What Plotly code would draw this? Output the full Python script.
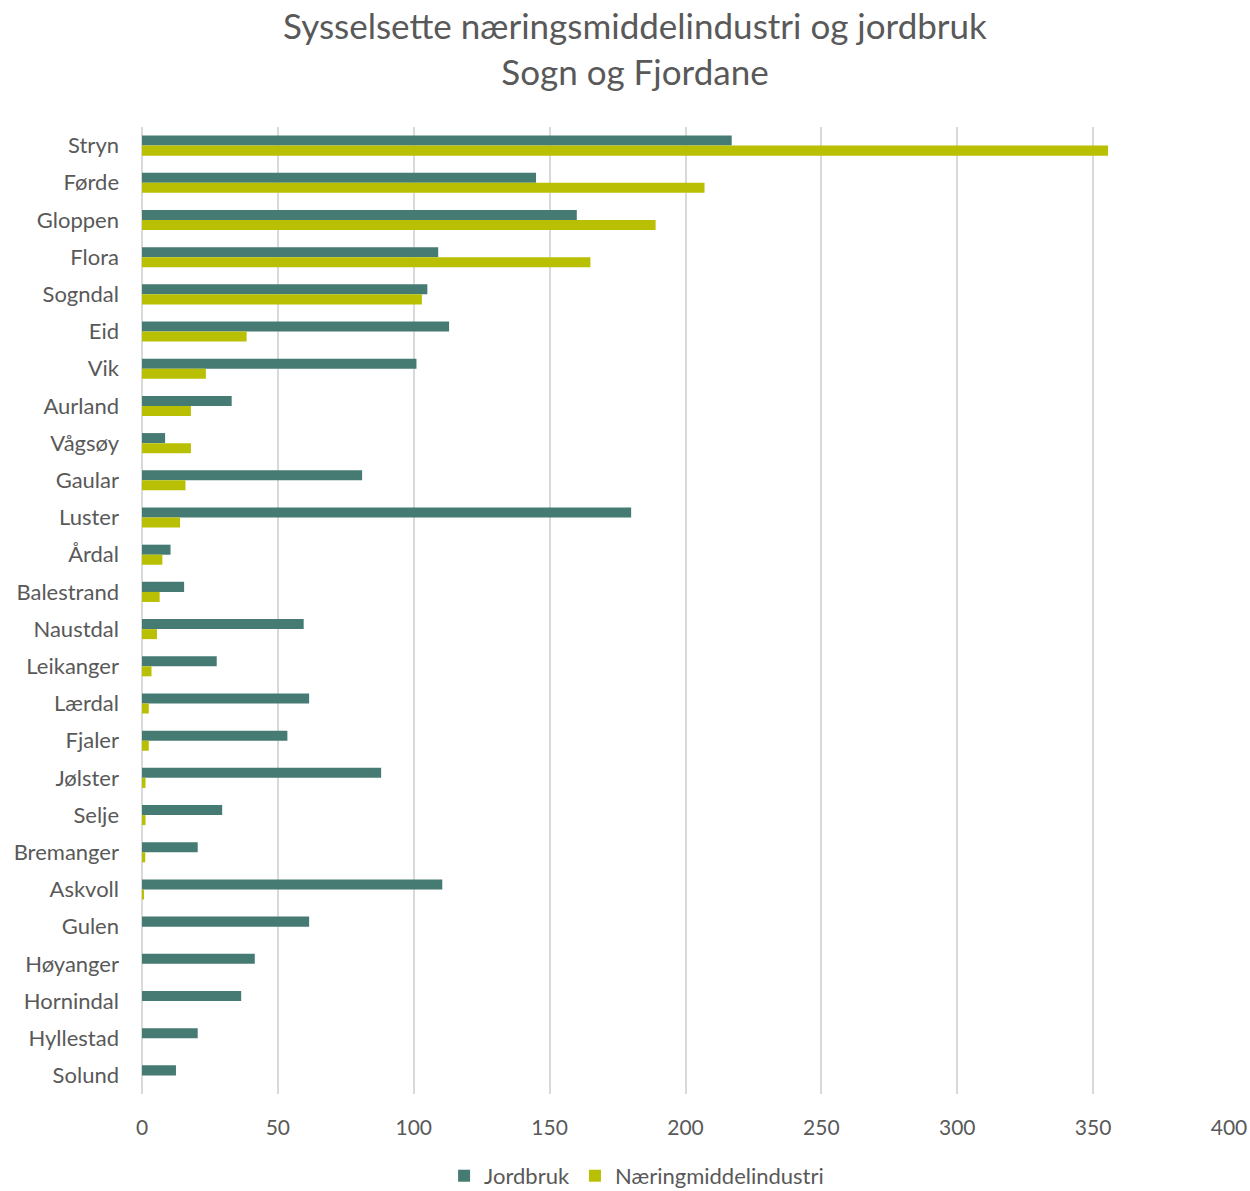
import plotly.graph_objects as go

kommuner = ["Stryn", "Førde", "Gloppen", "Flora", "Sogndal", "Eid", "Vik", "Aurland", "Vågsøy",
            "Gaular", "Luster", "Årdal", "Balestrand", "Naustdal", "Leikanger", "Lærdal", "Fjaler",
            "Jølster", "Selje", "Bremanger", "Askvoll", "Gulen", "Høyanger", "Hornindal",
            "Hyllestad", "Solund"]
jordbruk = [217, 145, 160, 109, 105, 113, 101, 33, 8.5, 81, 180, 10.5, 15.5, 59.5, 27.5, 61.5,
            53.5, 88, 29.5, 20.5, 110.5, 61.5, 41.5, 36.5, 20.5, 12.5]
naering = [355.5, 207, 189, 165, 103, 38.5, 23.5, 18, 18, 16, 14, 7.5, 6.5, 5.5, 3.5, 2.5,
           2.5, 1.3, 1.3, 1.2, 0.4, 0, 0, 0, 0, 0]
x_ticks = [0, 50, 100, 150, 200, 250, 300, 350, 400]

FONT = "Lato, 'Open Sans', sans-serif"
GREY = "#595959"

fig = go.Figure()
fig.add_trace(go.Bar(y=kommuner, x=jordbruk, orientation="h", name="Jordbruk",
                     marker=dict(color="#467B73", line=dict(width=0))))
fig.add_trace(go.Bar(y=kommuner, x=naering, orientation="h", name="Næringmiddelindustri",
                     marker=dict(color="#B9C003", line=dict(width=0))))

fig.update_layout(
    width=1250, height=1191,
    paper_bgcolor="white", plot_bgcolor="white",
    barmode="group", bargap=0.46, bargroupgap=0,
    margin=dict(l=142, r=21, t=127, b=97, autoexpand=False),
    font=dict(family=FONT, color=GREY),
    title=dict(text="Sysselsette næringsmiddelindustri og jordbruk<br>Sogn og Fjordane",
               x=0.508, xanchor="center", y=0.967, yanchor="top",
               font=dict(size=35, color=GREY, family=FONT)),
    xaxis=dict(range=[0, 400], tickvals=x_ticks, showgrid=True, gridcolor="#D9D9D9",
               gridwidth=2, zeroline=True, zerolinecolor="#D9D9D9", zerolinewidth=2,
               tickfont=dict(size=21, color=GREY), ticks="", showline=False,
               automargin=False, ticklabelstandoff=19),
    yaxis=dict(autorange="reversed", tickfont=dict(size=22, color=GREY), ticks="",
               showgrid=False, showline=False, automargin=False, ticklabelstandoff=22),
    legend=dict(orientation="h", x=0.455, xanchor="center", y=-0.063, yanchor="top",
                font=dict(size=22, color=GREY), traceorder="normal", itemwidth=30),
)

fig.write_html("out.html", config={"displayModeBar": False},
               post_script="document.body.style.margin='0';document.body.style.overflow='hidden';")
